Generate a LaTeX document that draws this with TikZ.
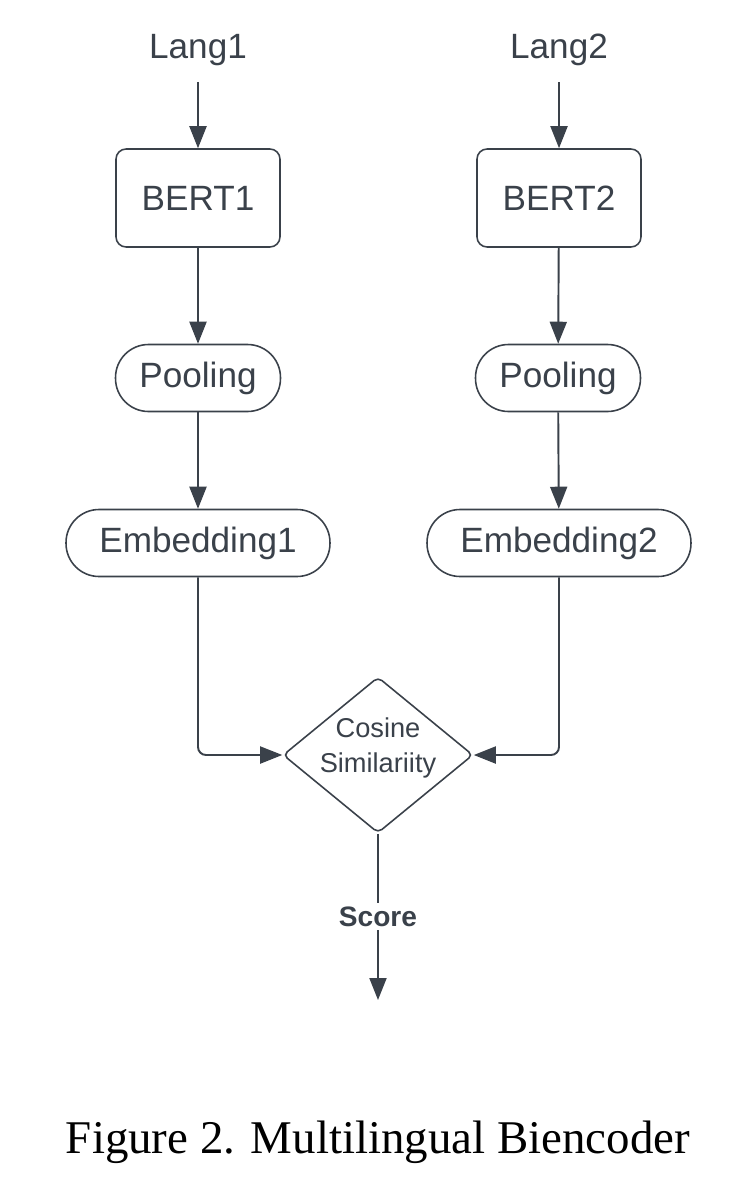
\documentclass[tikz,border=0pt]{standalone}
\usepackage{fontspec}
\setmainfont{Liberation Serif}
\setsansfont{Liberation Sans}
\usetikzlibrary{arrows.meta,shapes,positioning,calc}
\definecolor{lucid}{HTML}{3A414A}

\begin{document}
\begin{tikzpicture}[x=0.02cm, y=-0.02cm,
   every node/.style={text=lucid, font=\sffamily\fontsize{20}{24}\selectfont},
   block/.style={draw=lucid, line width=0.9pt, rounded corners=0.2cm, minimum width=3.28cm, minimum height=1.96cm},
   pill/.style={draw=lucid, line width=0.9pt, rounded corners=0.66cm, minimum height=1.34cm},
   decision/.style={diamond, draw=lucid, line width=0.9pt, rounded corners=0.1cm, inner sep=0pt, aspect=1.22,
      minimum width=3.8cm, minimum height=3.12cm, align=center, text height=0.68cm, text depth=0pt,
      font=\sffamily\fontsize{15.5}{19.4}\selectfont},
   link/.style={draw=lucid, line width=1.1pt, -{Triangle[length=0.44cm, width=0.34cm]}}]
\useasboundingbox (0,0) rectangle (754,1190);
\node (lang1) at (198,50) {Lang1};
\node (lang2) at (559,50) {Lang2};
\node[block] (bert1) at (198,198) {BERT1};
\node[block] (bert2) at (559,198) {BERT2};
\node[pill, minimum width=3.3cm] (pool1) at (198,378) {Pooling};
\node[pill, minimum width=3.3cm] (pool2) at (558,378) {Pooling};
\node[pill, minimum width=5.28cm] (emb1) at (198,543) {Embedding1};
\node[pill, minimum width=5.28cm] (emb2) at (559,543) {Embedding2};
\node[decision] (cos) at (378,755) {Cosine\\Similariity};
\coordinate (out) at (378,1000);
\node[text=black, font=\fontsize{26.7}{32}\selectfont] (caption) at (378,1142) {Figure 2. Multilingual Biencoder};

\draw[link, shorten <=0.2cm] (lang1) -- (bert1);
\draw[link, shorten <=0.2cm] (lang2) -- (bert2);
\draw[link] (bert1) -- (pool1);
\draw[link] (bert2) -- (pool2);
\draw[link] (pool1) -- (emb1);
\draw[link] (pool2) -- (emb2);
\draw[link, rounded corners=0.16cm] (emb1.south) |- (cos.west);
\draw[link, rounded corners=0.16cm] (emb2.south) |- (cos.east);
\draw[link] (cos.south) -- node[fill=white, inner sep=2pt, font=\sffamily\bfseries\fontsize{16}{19}\selectfont] (score) {Score} (out);
\end{tikzpicture}
\end{document}
